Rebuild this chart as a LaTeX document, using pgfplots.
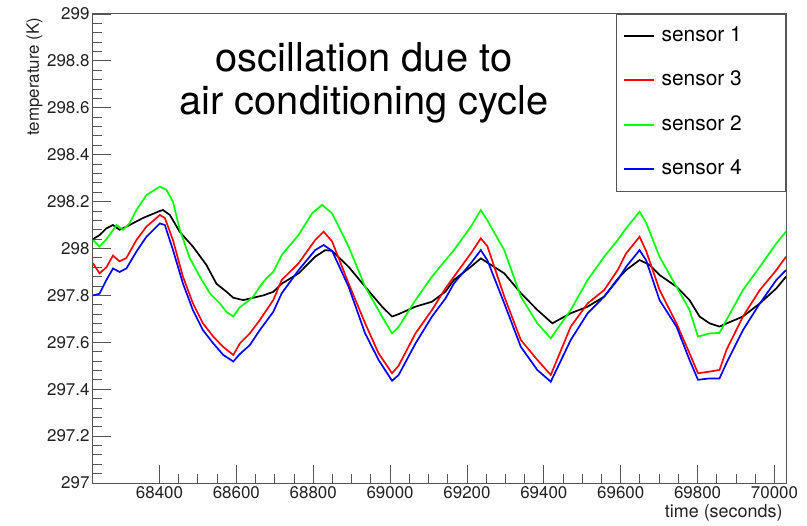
\documentclass[border=0pt]{standalone}
\usepackage{fontspec}
\setmainfont{TeX Gyre Heros}
\usepackage{pgfplots}
\pgfplotsset{compat=1.18}
\usepackage{xcolor}
\definecolor{frameGray}{HTML}{555555}
\definecolor{labelGray}{HTML}{222222}

\begin{document}
\begin{tikzpicture}
\path[use as bounding box] (-93bp,-43bp) rectangle (714bp,483bp);
\begin{axis}[
  scale only axis,
  width=693bp, height=469bp,
  at={(0,0)}, anchor=south west,
  xmin=68227, xmax=70030,
  ymin=297, ymax=299,
  xtick={68400,68600,68800,69000,69200,69400,69600,69800,70000},
  ytick={297,297.2,297.4,297.6,297.8,298,298.2,298.4,298.6,298.8,299},
  minor x tick num=3,
  minor y tick num=4,
  tick align=inside,
  xtick pos=bottom, ytick pos=left,
  major tick length=18bp, minor tick length=9bp,
  tick style={frameGray, line width=0.9bp},
  axis line style={frameGray, line width=1bp},
  scaled x ticks=false, scaled y ticks=false,
  /pgf/number format/1000 sep={},
  /pgf/number format/assume math mode=true,
  ticklabel style={font=\fontsize{17}{17}\selectfont, text=labelGray},
  xlabel={time (seconds)},
  ylabel={temperature (K)},
  xlabel style={at={(axis description cs:1,-0.0725)}, anchor=base east,
    font=\fontsize{18}{18}\selectfont, text=labelGray},
  ylabel style={at={(axis description cs:-0.078,1)}, anchor=base east,
    rotate=0, font=\fontsize{17}{17}\selectfont, text=labelGray},
  legend style={
    at={(rel axis cs:1,1)}, anchor=north east,
    draw=frameGray, line width=0.8bp,
    font=\fontsize{21}{21}\selectfont,
    inner xsep=6bp, inner ysep=12bp,
    row sep=24.5bp, column sep=7bp,
    nodes={inner sep=0pt, text height=15bp, text depth=5bp},
  },
  legend cell align=left,
  legend image code/.code={\draw[#1, line width=2bp] (0bp,0.5bp) -- (30bp,0.5bp);},
  every axis plot/.append style={line width=1.7bp, sharp plot},
]
% sensor 1
\addplot[color=black] coordinates {
(68227,298.04)(68244,298.057)(68262,298.086)(68279,298.10)(68296,298.08)(68314,298.093)
(68357,298.13)(68401,298.16)(68409,298.164)(68427,298.143)(68453,298.07)(68487,298.008)
(68522,297.93)(68548,297.85)(68574,297.816)(68592,297.79)(68618,297.78)(68644,297.79)
(68670,297.80)(68696,297.815)(68718,297.85)(68762,297.894)(68805,297.965)(68831,297.993)
(68849,297.99)(68892,297.922)(68935,297.837)(68979,297.752)(69005,297.71)(69022,297.72)
(69066,297.752)(69109,297.773)(69144,297.816)(69166,297.866)(69210,297.922)(69236,297.958)
(69253,297.94)(69297,297.894)(69340,297.81)(69383,297.738)(69422,297.681)(69470,297.724)
(69514,297.752)(69557,297.795)(69592,297.87)(69614,297.908)(69649,297.951)(69675,297.93)
(69701,297.887)(69745,297.837)(69779,297.78)(69805,297.71)(69831,297.681)(69857,297.667)
(69875,297.68)(69918,297.71)(69962,297.766)(70005,297.83)(70030,297.88)
};
% sensor 3
\addplot[color=red] coordinates {
(68227,297.937)(68244,297.894)(68262,297.92)(68279,297.97)(68296,297.945)(68314,297.96)
(68340,298.036)(68366,298.093)(68401,298.143)(68414,298.13)(68435,298.036)(68461,297.88)
(68487,297.766)(68513,297.681)(68540,297.624)(68566,297.58)(68592,297.546)(68609,297.595)
(68635,297.638)(68661,297.695)(68696,297.78)(68718,297.866)(68762,297.937)(68805,298.036)
(68827,298.072)(68849,298.03)(68892,297.851)(68935,297.681)(68970,297.553)(69005,297.468)
(69022,297.50)(69066,297.638)(69109,297.738)(69144,297.83)(69166,297.88)(69210,297.979)
(69236,298.043)(69253,298.01)(69297,297.795)(69340,297.61)(69383,297.525)(69418,297.461)
(69470,297.667)(69514,297.766)(69557,297.823)(69592,297.908)(69614,297.979)(69649,298.05)
(69666,297.99)(69701,297.823)(69745,297.681)(69779,297.553)(69801,297.468)(69831,297.475)
(69857,297.482)(69875,297.567)(69918,297.71)(69962,297.823)(70005,297.908)(70030,297.965)
};
% sensor 2
\addplot[color=green] coordinates {
(68227,298.036)(68244,298.008)(68262,298.04)(68279,298.078)(68288,298.10)(68305,298.08)
(68322,298.107)(68340,298.164)(68366,298.228)(68401,298.264)(68418,298.25)(68435,298.20)
(68453,298.079)(68479,297.958)(68505,297.88)(68531,297.809)(68557,297.766)(68574,297.73)
(68592,297.71)(68609,297.75)(68626,297.77)(68644,297.795)(68661,297.837)(68678,297.873)
(68696,297.90)(68718,297.972)(68762,298.058)(68797,298.15)(68823,298.186)(68849,298.15)
(68892,298.008)(68935,297.837)(68979,297.71)(69005,297.638)(69022,297.665)(69066,297.78)
(69109,297.88)(69144,297.95)(69166,297.993)(69210,298.093)(69236,298.164)(69253,298.12)
(69297,297.993)(69340,297.795)(69383,297.681)(69418,297.617)(69470,297.738)(69514,297.866)
(69557,297.965)(69592,298.036)(69614,298.086)(69649,298.157)(69666,298.11)(69701,297.965)
(69745,297.837)(69779,297.738)(69801,297.624)(69831,297.638)(69857,297.64)(69875,297.695)
(69918,297.823)(69962,297.922)(70005,298.022)(70030,298.072)
};
% sensor 4
\addplot[color=blue] coordinates {
(68227,297.80)(68244,297.807)(68262,297.866)(68279,297.915)(68296,297.90)(68314,297.915)
(68340,297.987)(68366,298.05)(68401,298.107)(68414,298.10)(68435,297.994)(68461,297.851)
(68487,297.737)(68513,297.652)(68540,297.595)(68566,297.546)(68592,297.518)(68609,297.55)
(68635,297.588)(68661,297.652)(68696,297.73)(68718,297.809)(68762,297.908)(68805,297.993)
(68827,298.015)(68849,297.99)(68892,297.837)(68935,297.638)(68970,297.525)(69005,297.436)
(69022,297.46)(69066,297.595)(69109,297.71)(69144,297.787)(69166,297.851)(69210,297.937)
(69236,297.993)(69253,297.95)(69297,297.766)(69340,297.581)(69383,297.482)(69418,297.432)
(69470,297.61)(69514,297.724)(69557,297.795)(69592,297.866)(69614,297.922)(69649,297.993)
(69666,297.95)(69701,297.78)(69745,297.667)(69779,297.525)(69801,297.44)(69831,297.446)
(69857,297.446)(69875,297.511)(69918,297.652)(69962,297.766)(70005,297.866)(70030,297.908)
};
\legend{\makebox[118bp][l]{sensor 1}, \makebox[118bp][l]{sensor 3},
        \makebox[118bp][l]{sensor 2}, \makebox[118bp][l]{sensor 4}}
\node[anchor=base, font=\fontsize{40}{40}\selectfont, text=black]
  at (axis description cs:0.391,0.877) {oscillation due to};
\node[anchor=base, font=\fontsize{40}{40}\selectfont, text=black]
  at (axis description cs:0.391,0.785) {air conditioning cycle};
\end{axis}
\end{tikzpicture}
\end{document}
